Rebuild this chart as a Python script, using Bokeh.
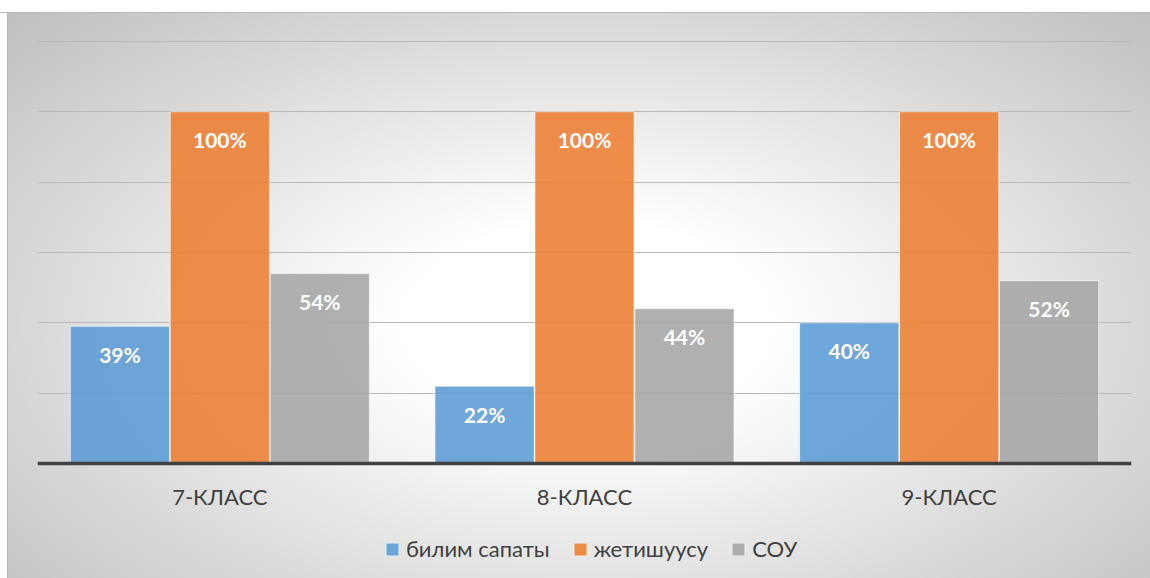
from bokeh.plotting import figure
from bokeh.models import (ColumnDataSource, FactorRange, Range1d, FixedTicker,
                          LabelSet, Legend, LegendItem)
from bokeh.transform import dodge
from bokeh.core.properties import value
from bokeh.embed import file_html
from bokeh.resources import INLINE

classes = ["7-КЛАСС", "8-КЛАСС", "9-КЛАСС"]
series_names = ["билим сапаты", "жетишуусу", "СОУ"]
bilim_sapaty = [39, 22, 40]
jetishuusu = [100, 100, 100]
sou = [54, 44, 52]
grid_ticks = [0, 20, 40, 60, 80, 100, 120]

colors = ["#5B9BD5", "#ED7D31", "#A5A5A5"]
offsets = [-0.274, 0.0, 0.274]
FONT = "Lato"

src = ColumnDataSource(dict(
    cls=classes,
    s0=bilim_sapaty, s1=jetishuusu, s2=sou,
    t0=[f"{v}%" for v in bilim_sapaty],
    t1=[f"{v}%" for v in jetishuusu],
    t2=[f"{v}%" for v in sou],
))

# frame spans from y=40 px down to the bottom of the page; value 0 sits at y=463 px
p = figure(x_range=FactorRange(*classes, range_padding=0), y_range=Range1d(-32.70, 120.28),
           width=1150, height=578, output_backend="svg", toolbar_location=None,
           min_border_left=37, min_border_right=19, min_border_top=40, min_border_bottom=0)
p.border_fill_color = None
p.background_fill_color = None
p.outline_line_color = None
p.styles = {
    "background": "linear-gradient(#ffffff 0px, #ffffff 12px, #b8b8b8 12px, #b8b8b8 13px, transparent 13px), "
                  "linear-gradient(90deg, #ffffff 0px, #ffffff 7px, #b8b8b8 7px, #b8b8b8 8px, transparent 8px), "
                  "radial-gradient(ellipse farthest-corner at 51% 56%, #ffffff 0%, #ffffff 22%, #bdbdbd 100%)",
}

p.xgrid.visible = False
p.ygrid.ticker = FixedTicker(ticks=grid_ticks)
p.ygrid.grid_line_color = "#b8b8b8"
p.ygrid.grid_line_width = 1
p.yaxis.visible = False

renderers = []
for i in range(3):
    r = p.vbar(x=dodge("cls", offsets[i], range=p.x_range), bottom=0, top=f"s{i}", width=0.272,
               source=src, fill_color=colors[i], fill_alpha=0.88,
               line_color="white", line_alpha=0.6, line_width=1)
    renderers.append(r)
    lbl = LabelSet(x=dodge("cls", offsets[i], range=p.x_range), y=f"s{i}", text=f"t{i}",
                   source=src, y_offset=-28, text_align="center", text_baseline="middle",
                   text_color="white", text_font=value(FONT), text_font_style="bold",
                   text_font_size="21px")
    p.add_layout(lbl)

ax = p.xaxis[0]
ax.fixed_location = 0
ax.axis_line_width = 3.5
ax.axis_line_color = "#404040"
ax.major_tick_line_color = None
ax.minor_tick_line_color = None
ax.major_tick_out = 0
ax.major_tick_in = 0
ax.major_label_text_font = FONT
ax.major_label_text_font_size = "22px"
ax.major_label_text_color = "#404040"
ax.major_label_standoff = 19

legend = Legend(items=[LegendItem(label=series_names[i], renderers=[renderers[i]]) for i in range(3)],
                orientation="horizontal", location=(343, 12),
                label_text_font=FONT, label_text_font_size="22px", label_text_color="#404040",
                glyph_width=16, glyph_height=16, label_standoff=6, spacing=22,
                background_fill_alpha=0, border_line_alpha=0, padding=4, margin=0)
p.add_layout(legend)

open("out.html", "w").write(file_html(p, INLINE))
